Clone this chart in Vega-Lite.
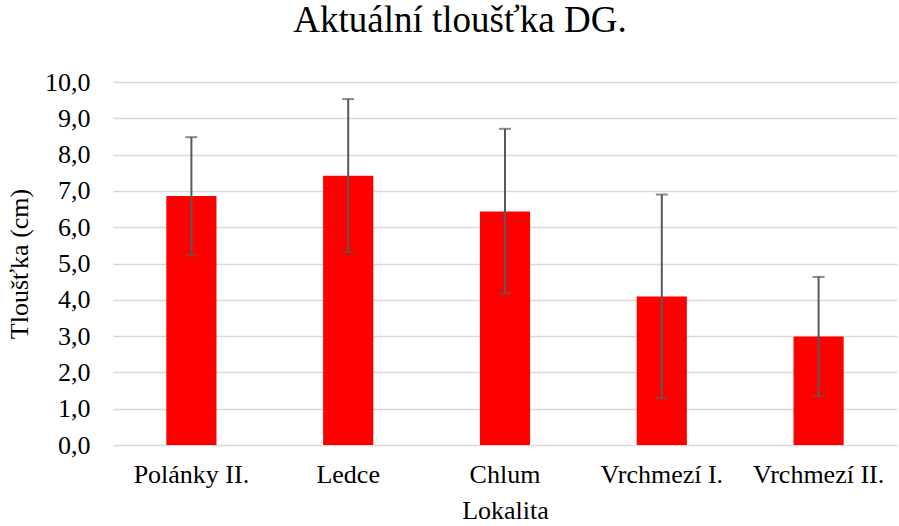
{
  "$schema": "https://vega.github.io/schema/vega-lite/v6.json",
  "autosize": "none",
  "width": 784,
  "height": 363,
  "padding": {"left": 113, "top": 82, "right": 2, "bottom": 81},
  "background": "white",
  "title": {
    "text": "Aktuální tloušťka DG.",
    "font": "Liberation Serif",
    "fontSize": 37,
    "fontWeight": "normal",
    "color": "#000000",
    "anchor": "middle",
    "dx": -45,
    "offset": 29
  },
  "data": {
    "values": [
      {"Lokalita": "Polánky II.", "mean": 6.86, "lo": 5.22, "hi": 8.48},
      {"Lokalita": "Ledce", "mean": 7.42, "lo": 5.31, "hi": 9.53},
      {"Lokalita": "Chlum", "mean": 6.43, "lo": 4.17, "hi": 8.71},
      {"Lokalita": "Vrchmezí I.", "mean": 4.09, "lo": 1.29, "hi": 6.90},
      {"Lokalita": "Vrchmezí II.", "mean": 2.99, "lo": 1.35, "hi": 4.63}
    ]
  },
  "encoding": {
    "x": {
      "field": "Lokalita",
      "type": "nominal",
      "sort": null,
      "scale": {"paddingInner": 0.68, "paddingOuter": 0.34},
      "axis": {
        "title": "Lokalita",
        "labelAngle": 0,
        "labelFont": "Liberation Serif",
        "labelFontSize": 26,
        "labelColor": "#000000",
        "labelPadding": 16,
        "labelOverlap": false,
        "titleFont": "Liberation Serif",
        "titleFontSize": 26,
        "titleFontWeight": "normal",
        "titleColor": "#000000",
        "titlePadding": 10,
        "domain": false,
        "ticks": false,
        "grid": false
      }
    }
  },
  "layer": [
    {
      "mark": {"type": "bar", "color": "#ff0000"},
      "encoding": {
        "y": {
          "field": "mean",
          "type": "quantitative",
          "scale": {"domain": [0, 10], "nice": false},
          "axis": {
            "title": "Tloušťka (cm)",
            "values": [0, 1, 2, 3, 4, 5, 6, 7, 8, 9, 10],
            "tickCount": 11,
            "labelExpr": "replace(format(datum.value, '.1f'), '.', ',')",
            "labelOverlap": false,
            "labelFont": "Liberation Serif",
            "labelFontSize": 26,
            "labelColor": "#000000",
            "labelPadding": 23,
            "titleFont": "Liberation Serif",
            "titleFontSize": 26,
            "titleFontWeight": "normal",
            "titleColor": "#000000",
            "titlePadding": 12,
            "domain": false,
            "ticks": false,
            "grid": true,
            "gridColor": "#d9d9d9",
            "gridWidth": 1.5
          }
        }
      }
    },
    {
      "mark": {"type": "rule", "color": "#595959", "strokeWidth": 2},
      "encoding": {
        "y": {
          "field": "lo",
          "type": "quantitative",
          "scale": {"domain": [0, 10], "nice": false},
          "axis": {
            "title": "Tloušťka (cm)",
            "values": [0, 1, 2, 3, 4, 5, 6, 7, 8, 9, 10],
            "tickCount": 11,
            "labelExpr": "replace(format(datum.value, '.1f'), '.', ',')",
            "labelOverlap": false,
            "labelFont": "Liberation Serif",
            "labelFontSize": 26,
            "labelColor": "#000000",
            "labelPadding": 23,
            "titleFont": "Liberation Serif",
            "titleFontSize": 26,
            "titleFontWeight": "normal",
            "titleColor": "#000000",
            "titlePadding": 12,
            "domain": false,
            "ticks": false,
            "grid": true,
            "gridColor": "#d9d9d9",
            "gridWidth": 1.5
          }
        },
        "y2": {"field": "hi"}
      }
    },
    {
      "mark": {"type": "tick", "color": "#595959", "thickness": 2, "size": 12},
      "encoding": {
        "y": {
          "field": "lo",
          "type": "quantitative",
          "scale": {"domain": [0, 10], "nice": false},
          "axis": {
            "title": "Tloušťka (cm)",
            "values": [0, 1, 2, 3, 4, 5, 6, 7, 8, 9, 10],
            "tickCount": 11,
            "labelExpr": "replace(format(datum.value, '.1f'), '.', ',')",
            "labelOverlap": false,
            "labelFont": "Liberation Serif",
            "labelFontSize": 26,
            "labelColor": "#000000",
            "labelPadding": 23,
            "titleFont": "Liberation Serif",
            "titleFontSize": 26,
            "titleFontWeight": "normal",
            "titleColor": "#000000",
            "titlePadding": 12,
            "domain": false,
            "ticks": false,
            "grid": true,
            "gridColor": "#d9d9d9",
            "gridWidth": 1.5
          }
        }
      }
    },
    {
      "mark": {"type": "tick", "color": "#595959", "thickness": 2, "size": 12},
      "encoding": {
        "y": {
          "field": "hi",
          "type": "quantitative",
          "scale": {"domain": [0, 10], "nice": false},
          "axis": {
            "title": "Tloušťka (cm)",
            "values": [0, 1, 2, 3, 4, 5, 6, 7, 8, 9, 10],
            "tickCount": 11,
            "labelExpr": "replace(format(datum.value, '.1f'), '.', ',')",
            "labelOverlap": false,
            "labelFont": "Liberation Serif",
            "labelFontSize": 26,
            "labelColor": "#000000",
            "labelPadding": 23,
            "titleFont": "Liberation Serif",
            "titleFontSize": 26,
            "titleFontWeight": "normal",
            "titleColor": "#000000",
            "titlePadding": 12,
            "domain": false,
            "ticks": false,
            "grid": true,
            "gridColor": "#d9d9d9",
            "gridWidth": 1.5
          }
        }
      }
    }
  ],
  "config": {"view": {"stroke": null}}
}
